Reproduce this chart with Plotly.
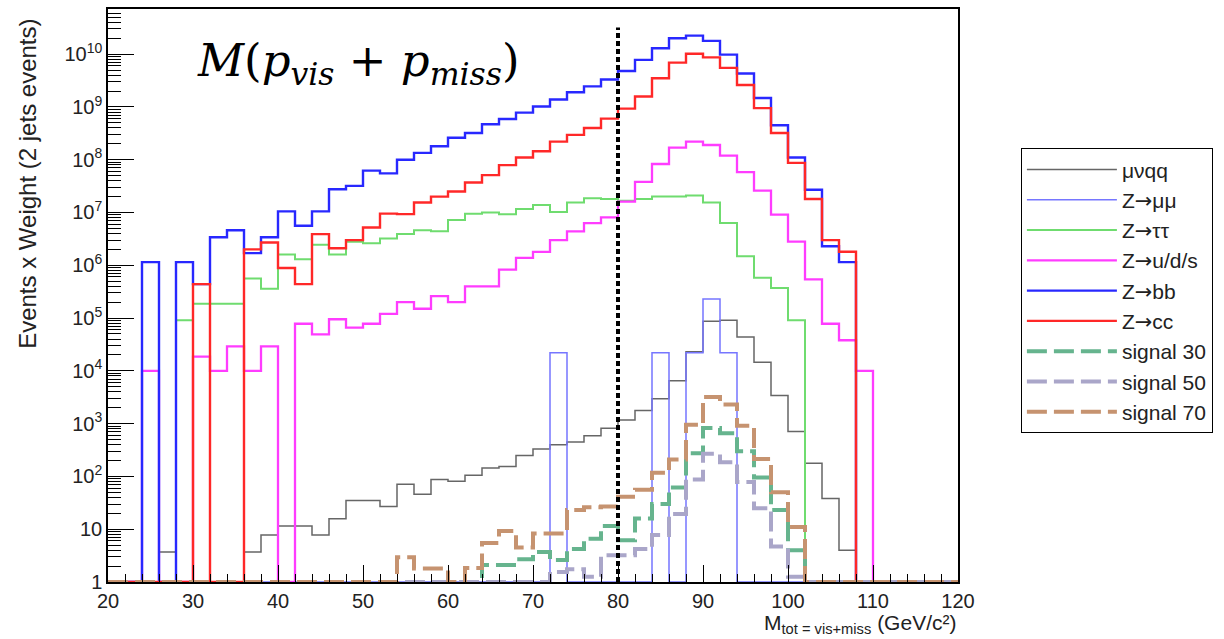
import plotly.graph_objects as go

# ---------------- data (bin width 2 GeV, 20..120) ----------------
bin_edges = list(range(20, 122, 2))          # 51 edges -> 50 bins

mu_nu_qq = [0, 0, 0, 3.7, 0, 0, 0, 0, 3.7, 7.8,
            11.5, 11.5, 7.8, 15.8, 35, 35, 27, 71, 46, 87,
            81, 105, 145, 155, 250, 330, 400, 450, 590, 820,
            1170, 1780, 2950, 6500, 2.3e4, 8.7e4, 9.1e4, 4.4e4, 1.45e4, 3400,
            710, 178, 38, 4.0, 0, 0, 0, 0, 0, 0]

z_mumu = [0, 0, 0, 0, 0, 0, 0, 0, 0, 0,
          0, 0, 0, 0, 0, 0, 0, 0, 0, 0,
          0, 0, 0, 0, 0, 0, 2.2e4, 0, 0, 0,
          0, 0, 2.2e4, 0, 2.2e4, 2.3e5, 2.2e4, 0, 0, 0,
          0, 0, 0, 0, 0, 0, 0, 0, 0, 0]

z_tautau = [0, 0, 0, 0, 9.1e4, 1.86e5, 1.86e5, 1.86e5, 5.6e5, 3.6e5,
            1.6e6, 1.3e6, 2.45e6, 1.6e6, 2.8e6, 2.6e6, 3.2e6, 3.9e6, 4.6e6, 4.4e6,
            7.2e6, 9.5e6, 1.0e7, 9.3e6, 1.17e7, 1.38e7, 1.02e7, 1.55e7, 1.86e7, 1.8e7,
            1.66e7, 1.8e7, 2.0e7, 2.0e7, 2.1e7, 1.55e7, 6.3e6, 1.48e6, 5.8e5, 3.7e5,
            9.1e4, 0, 0, 0, 0, 0, 0, 0, 0, 0]

z_uds = [0, 0, 1.0e4, 0, 0, 1.86e4, 1.0e4, 2.9e4, 1.0e4, 2.9e4,
         0, 7.8e4, 4.9e4, 9.5e4, 6.6e4, 7.8e4, 1.2e5, 2.0e5, 1.5e5, 2.6e5,
         2.0e5, 4.0e5, 4.0e5, 8.3e5, 1.38e6, 1.8e6, 3.0e6, 4.4e6, 6.3e6, 8.1e6,
         1.6e7, 3.8e7, 8.3e7, 1.7e8, 2.2e8, 1.9e8, 1.2e8, 5.8e7, 2.6e7, 9.1e6,
         2.8e6, 5.4e5, 7.8e4, 3.8e4, 1.0e4, 0, 0, 0, 0, 0]

z_bb = [0, 0, 1.15e6, 0, 1.15e6, 4.4e5, 3.4e6, 4.6e6, 1.7e6, 3.4e6,
        1.05e7, 5.6e6, 1.05e7, 2.75e7, 3.2e7, 6.2e7, 5.5e7, 1.0e8, 1.35e8, 1.8e8,
        2.6e8, 3.2e8, 4.7e8, 5.9e8, 7.8e8, 1.02e9, 1.38e9, 1.9e9, 2.45e9, 3.3e9,
        4.8e9, 7.8e9, 1.29e10, 2.0e10, 2.24e10, 1.78e10, 9.8e9, 4.3e9, 1.48e9, 4.5e8,
        1.1e8, 2.7e7, 2.3e6, 1.15e6, 0, 0, 0, 0, 0, 0]

z_cc = [0, 0, 0, 0, 0, 4.4e5, 0, 0, 2.0e6, 2.7e6,
        8.9e5, 4.4e5, 3.9e6, 2.1e6, 3.0e6, 5.2e6, 9.5e6, 9.3e6, 1.55e7, 2.0e7,
        2.5e7, 3.7e7, 5.1e7, 7.9e7, 1.1e8, 1.45e8, 2.2e8, 2.95e8, 4.0e8, 6.0e8,
        9.3e8, 1.58e9, 3.5e9, 6.9e9, 1.02e10, 8.7e9, 5.5e9, 2.6e9, 9.5e8, 3.2e8,
        8.7e7, 1.8e7, 3.0e6, 1.8e6, 0, 0, 0, 0, 0, 0]

signal_30 = [0, 0, 0, 0, 0, 0, 0, 0, 0, 0,
             0, 0, 0, 0, 0, 0, 0, 0, 0, 0,
             0, 0, 2.1, 2.1, 2.7, 3.7, 2.6, 4.2, 6.6, 11.5,
             6.2, 16, 30, 62, 275, 830, 660, 300, 95, 23,
             4.0, 0, 0, 0, 0, 0, 0, 0, 0, 0]

signal_50 = [0, 0, 0, 0, 0, 0, 0, 0, 0, 0,
             0, 0, 0, 0, 0, 0, 0, 0, 0, 0,
             0, 0, 0, 0, 0, 0, 1.55, 1.74, 1.26, 3.2,
             3.2, 4.2, 7.8, 19.5, 87, 270, 186, 78, 25, 4.7,
             1.26, 0, 0, 0, 0, 0, 0, 0, 0, 0]

signal_70 = [0, 0, 0, 0, 0, 0, 0, 0, 0, 0,
             0, 0, 0, 0, 0, 0, 0, 2.95, 1.8, 1.8,
             0, 1.85, 5.5, 9.3, 4.5, 8.3, 8.3, 23, 26, 27,
             41, 56, 117, 210, 950, 3200, 2300, 910, 214, 50,
             11, 0, 0, 0, 0, 0, 0, 0, 0, 0]

ARROW = "<span style='font-family:DejaVu Sans'>\u2192</span>"
series_names = ["\u03bc\u03bdqq", "Z" + ARROW + "\u03bc\u03bc", "Z" + ARROW + "\u03c4\u03c4",
                "Z" + ARROW + "u/d/s", "Z" + ARROW + "bb", "Z" + ARROW + "cc",
                "signal 30", "signal 50", "signal 70"]
series_values = [mu_nu_qq, z_mumu, z_tautau, z_uds, z_bb, z_cc, signal_30, signal_50, signal_70]

cut_value = 80
cut_line_top = 3.2e10
y_min = 1.0
y_tick_vals = [1, 10, 1e2, 1e3, 1e4, 1e5, 1e6, 1e7, 1e8, 1e9, 1e10]
y_tick_text = ["1", "10"] + ["10<sup>%d</sup>" % k for k in range(2, 11)]

# ---------------- styles ----------------
styles = [
    dict(color="#666666", width=1.5, dash="solid"),
    dict(color="#7676ff", width=1.5, dash="solid"),
    dict(color="#6fdc6f", width=2.0, dash="solid"),
    dict(color="#ff3cff", width=2.3, dash="solid"),
    dict(color="#2828ff", width=2.4, dash="solid"),
    dict(color="#ff2828", width=2.4, dash="solid"),
    dict(color="#66b48e", width=4.0, dash="20px,7px"),
    dict(color="#aaa6c9", width=4.0, dash="20px,7px"),
    dict(color="#c69370", width=4.0, dash="20px,7px"),
]

fig = go.Figure()

for i, (name, vals, st) in enumerate(zip(series_names, series_values, styles)):
    y = [v if v > 0 else y_min for v in vals]
    y = y + [y[-1]]
    fig.add_trace(go.Scatter(
        x=bin_edges, y=y, mode="lines", name=name,
        line=dict(shape="hv", color=st["color"], width=st["width"], dash=st["dash"]),
        legendgroup="g%d" % i,
    ))

fig.add_trace(go.Scatter(
    x=[cut_value, cut_value], y=[y_min, cut_line_top], mode="lines",
    line=dict(color="black", width=4, dash="5px,3px"), showlegend=False,
))

SANS = "Liberation Sans, Arial, sans-serif"
axis_font = dict(family=SANS, size=20, color="#222222")

fig.update_xaxes(
    range=[20, 120], tick0=20, dtick=10, ticks="inside", ticklen=17, tickwidth=1.2,
    tickcolor="black", showline=True, linecolor="black", linewidth=1.5, mirror=True,
    showgrid=False, zeroline=False, tickfont=axis_font,
    minor=dict(ticks="inside", dtick=2, ticklen=8, tickcolor="black", tickwidth=1.2, showgrid=False),
)
fig.update_yaxes(
    type="log", range=[0, 10.855], tickmode="array", tickvals=y_tick_vals, ticktext=y_tick_text,
    ticks="inside", ticklen=26, tickwidth=1.2, tickcolor="black",
    showline=True, linecolor="black", linewidth=1.5, mirror=True,
    showgrid=False, zeroline=False, tickfont=axis_font,
    minor=dict(ticks="inside", dtick="D1", ticklen=13, tickcolor="black", tickwidth=1, showgrid=False),
)

fig.update_layout(
    width=1224, height=639,
    margin=dict(l=108, r=266, t=7, b=57),
    paper_bgcolor="white", plot_bgcolor="white",
    font=axis_font,
    legend=dict(
        x=1.074, y=0.757, xanchor="left", yanchor="top",
        bordercolor="black", borderwidth=1, bgcolor="white",
        font=dict(family=SANS, size=21, color="#222222"),
        itemwidth=90, tracegroupgap=0, traceorder="grouped",
        entrywidth=200, entrywidthmode="pixels",
    ),
    annotations=[
        dict(text="Events x Weight (2 jets events)", textangle=-90,
             xref="paper", yref="paper", x=-0.094, y=0.695, xanchor="center", yanchor="middle",
             showarrow=False, font=dict(family=SANS, size=24, color="#222222")),
        dict(text="M<sub>tot = vis+miss</sub> (GeV/c\u00b2)",
             xref="paper", yref="paper", x=1.0, y=-0.074, xanchor="right", yanchor="middle",
             showarrow=False, font=dict(family=SANS, size=21, color="#222222")),
        dict(text="<i>M</i>(<i>p<sub>vis</sub></i> + <i>p<sub>miss</sub></i>)",
             xref="paper", yref="paper", x=0.102, y=0.905, xanchor="left", yanchor="middle",
             showarrow=False, font=dict(family="DejaVu Serif, serif", size=45, color="black")),
    ],
)

fig.write_html("out.html")
